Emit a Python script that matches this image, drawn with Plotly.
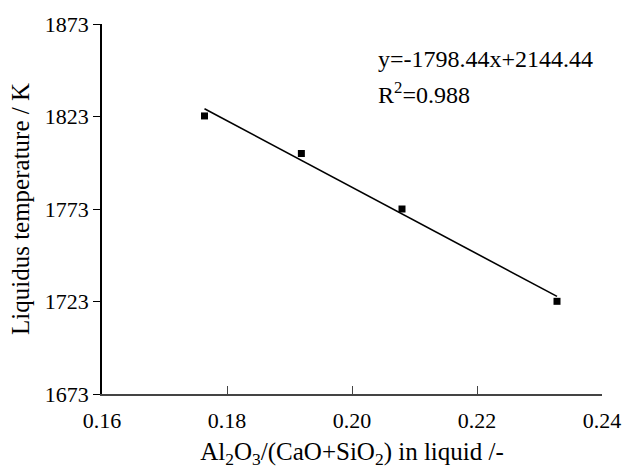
import plotly.graph_objects as go

ratio = [0.1764, 0.1919, 0.2080, 0.2328]
liquidus_T = [1823.3, 1803.0, 1773.0, 1723.1]
slope = -1798.44
intercept = 2144.44
r2 = 0.988
x_ticks = [0.16, 0.18, 0.20, 0.22, 0.24]
x_tick_labels = ["0.16", "0.18", "0.20", "0.22", "0.24"]
y_ticks = [1673, 1723, 1773, 1823, 1873]

fit_x = [min(ratio), max(ratio)]
fit_y = [slope * v + intercept for v in fit_x]

FONT = "Liberation Serif, Times New Roman, serif"

fig = go.Figure()
fig.add_trace(go.Scatter(x=fit_x, y=fit_y, mode="lines",
                         line=dict(color="black", width=1.6), showlegend=False))
fig.add_trace(go.Scatter(x=ratio, y=liquidus_T, mode="markers",
                         marker=dict(symbol="square", size=7, color="black"),
                         showlegend=False))

ann_x = 0.16 + (382 - 102) / 511 * 0.08
fig.add_annotation(xref="x", yref="paper", x=ann_x, y=(396 - 53) / 379,
                   xanchor="left", yanchor="middle",
                   text=f"y={slope}x+{intercept}", showarrow=False,
                   font=dict(family=FONT, size=24, color="black"))
fig.add_annotation(xref="x", yref="paper", x=ann_x, y=(396 - 88) / 379,
                   xanchor="left", yanchor="middle",
                   text=f"R<sup>2</sup>={r2}", showarrow=False,
                   font=dict(family=FONT, size=24, color="black"))

fig.update_layout(
    width=633, height=473,
    margin=dict(l=102, r=20, t=17, b=77),
    paper_bgcolor="white", plot_bgcolor="white",
    font=dict(family=FONT, size=22, color="black"),
)
fig.update_xaxes(range=[0.16, 0.24], tickvals=x_ticks, ticktext=x_tick_labels,
                 ticks="inside", ticklen=8, tickcolor="#444", showline=True, linecolor="#444",
                 linewidth=1.5, showgrid=False, zeroline=False,
                 tickfont=dict(size=22), ticklabelstandoff=6,
                 title=dict(text="Al<sub>2</sub>O<sub>3</sub>/(CaO+SiO<sub>2</sub>) in liquid /-",
                            font=dict(size=25), standoff=10))
fig.update_yaxes(range=[1673, 1873], tickvals=y_ticks,
                 ticks="outside", ticklen=7, tickcolor="black", showline=True, linecolor="black",
                 linewidth=1.5, showgrid=False, zeroline=False,
                 tickfont=dict(size=22),
                 title=dict(text="Liquidus temperature / K", font=dict(size=25), standoff=8))

fig.write_html("out.html")
